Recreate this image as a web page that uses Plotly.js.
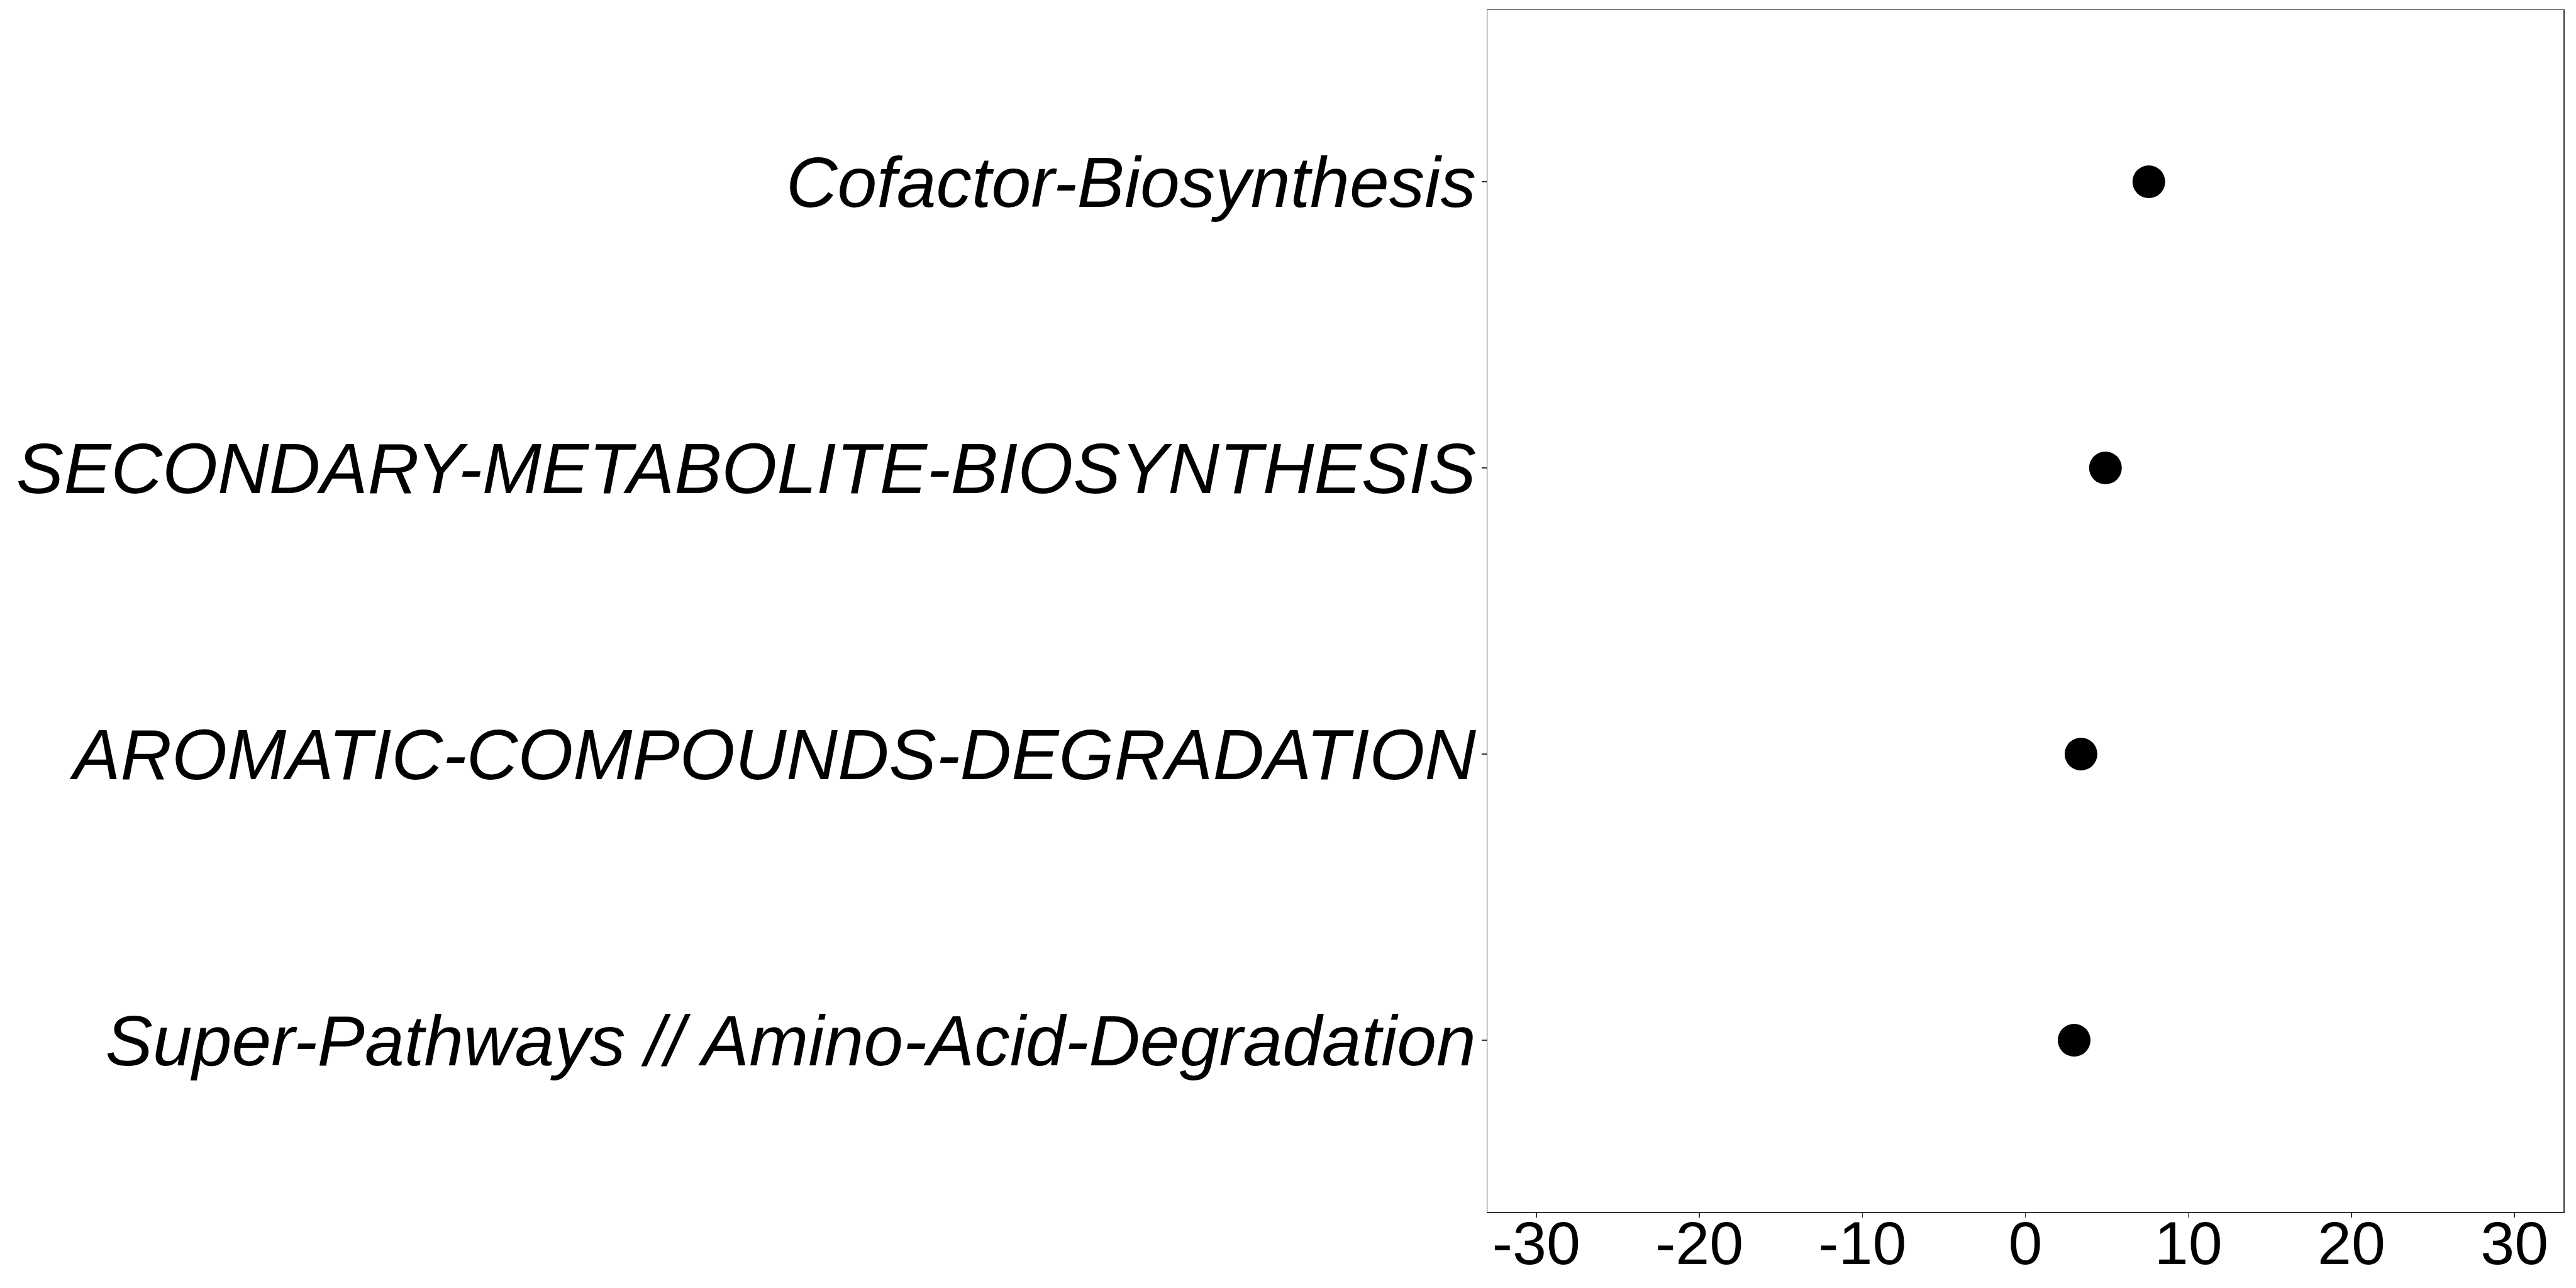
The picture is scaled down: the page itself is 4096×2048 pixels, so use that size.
<!DOCTYPE html>
<html>
<head>
<meta charset="utf-8">
<script src="https://cdn.plot.ly/plotly-3.0.1.min.js"></script>
<style>html,body{margin:0;padding:0;background:#fff;}#chart{width:4096px;height:2048px;}</style>
</head>
<body>
<div id="chart"></div>
<script>
// categories listed top to bottom
const pathways = [
  "Cofactor-Biosynthesis",
  "SECONDARY-METABOLITE-BIOSYNTHESIS",
  "AROMATIC-COMPOUNDS-DEGRADATION",
  "Super-Pathways // Amino-Acid-Degradation"
];
const values = [7.57, 4.91, 3.41, 2.99];
const xTicks = [-30, -20, -10, 0, 10, 20, 30];

const trace = {
  type: "scatter",
  mode: "markers",
  x: values,
  y: pathways,
  marker: {color: "#000000", size: 52, line: {width: 0}},
  hoverinfo: "x+y"
};

const layout = {
  width: 4096,
  height: 2048,
  paper_bgcolor: "#ffffff",
  plot_bgcolor: "#ffffff",
  showlegend: false,
  margin: {l: 2365, r: 20, t: 16, b: 121, pad: 0},
  font: {family: "Liberation Sans, Arial, sans-serif", color: "#000000"},
  xaxis: {
    range: [-33, 33],
    tickmode: "array",
    tickvals: xTicks,
    ticktext: xTicks.map(String),
    showgrid: false,
    zeroline: false,
    showline: true,
    mirror: true,
    linecolor: "#333333",
    linewidth: 1.5,
    ticks: "outside",
    ticklen: 7.5,
    tickwidth: 1.5,
    tickcolor: "#333333",
    ticklabelstandoff: -42,
    tickfont: {family: "Liberation Sans, Arial, sans-serif", size: 97, color: "#000000"}
  },
  yaxis: {
    type: "category",
    categoryorder: "array",
    categoryarray: pathways,
    range: [3.6, -0.6],
    showgrid: false,
    zeroline: false,
    showline: true,
    mirror: true,
    linecolor: "#333333",
    linewidth: 1.5,
    ticks: "outside",
    ticklen: 8,
    tickwidth: 1.5,
    tickcolor: "#333333",
    ticklabelstandoff: -14,
    tickfont: {family: "Liberation Sans, Arial, sans-serif", size: 113, color: "#000000", style: "italic"}
  }
};

Plotly.newPlot("chart", [trace], layout, {displayModeBar: false, staticPlot: true});
</script>
</body>
</html>
